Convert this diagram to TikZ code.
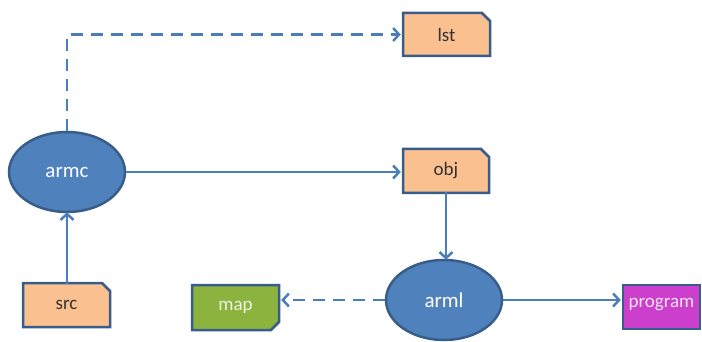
\documentclass[tikz,border=0pt]{standalone}
\usepackage{fontspec}
\setmainfont{Carlito}
\usetikzlibrary{shapes.geometric,arrows.meta}
\definecolor{ellfill}{HTML}{4F81BD}
\definecolor{ellline}{HTML}{385D8A}
\definecolor{peach}{HTML}{FAC090}
\definecolor{olive}{HTML}{8DB33F}
\definecolor{magen}{HTML}{CC3FCC}
\definecolor{conn}{HTML}{4A7EBB}
\tikzset{
  proc/.style={ellipse, draw=ellline, line width=2.5pt, fill=ellfill, text=white,
    minimum width=116pt, minimum height=80pt, inner sep=0pt, font=\fontsize{21}{24}\selectfont},
  boxline/.style={draw=ellline, line width=2.5pt, line join=miter},
  lbl/.style={font=\fontsize{19}{22}\selectfont, inner sep=0pt},
  link/.style={draw=conn, line width=2.5pt, -{Straight Barb[length=6pt,width=13pt]}},
  dlink/.style={link, dash pattern=on 12pt off 8pt},
}
\begin{document}
\begin{tikzpicture}[x=1pt,y=-1pt]
\useasboundingbox (0,0) rectangle (702,342);
% boxes
\fill[peach] (403,13) -- (482,13) -- (490,21) -- (490,56) -- (403,56) -- cycle;
\draw[boxline] (403,13) -- (482,13) -- (490,21) -- (490,56) -- (403,56) -- cycle;
\node[lbl, text=black!80, minimum width=87pt, minimum height=43pt] (lst) at (446.5,34.5) {lst};

\fill[peach] (403,149) -- (481,149) -- (489,157) -- (489,193) -- (403,193) -- cycle;
\draw[boxline] (403,149) -- (481,149) -- (489,157) -- (489,193) -- (403,193) -- cycle;
\node[lbl, text=black!80, minimum width=86pt, minimum height=44pt] (obj) at (446,171) {obj};

\fill[peach] (23,283) -- (102,283) -- (110,291) -- (110,327) -- (23,327) -- cycle;
\draw[boxline] (23,283) -- (102,283) -- (110,291) -- (110,327) -- (23,327) -- cycle;
\node[lbl, text=black!80, minimum width=87pt, minimum height=44pt] (src) at (66.5,305) {src};

\fill[olive] (192,285) -- (279,285) -- (279,322) -- (271,330) -- (192,330) -- cycle;
\draw[boxline] (192,285) -- (279,285) -- (279,322) -- (271,330) -- (192,330) -- cycle;
\node[lbl, text=white!85!olive, minimum width=87pt, minimum height=45pt] (map) at (235.5,307.5) {map};

\fill[magen] (623,285) -- (700,285) -- (700,329) -- (623,329) -- cycle;
\draw[boxline] (623,285) -- (700,285) -- (700,329) -- (623,329) -- cycle;
\node[lbl, text=white!85!magen, minimum width=77pt, minimum height=44pt] (program) at (661.5,305) {program};

% ellipses
\node[proc] (armc) at (67,172) {armc};
\node[proc] (arml) at (444,300) {arml};

% connectors
\coordinate (bend) at (armc.north |- lst.west);
\draw[dlink] (armc.north) -- (bend) -- ([xshift=-2pt]lst.west);
\draw[link] (armc.east) -- ([xshift=-2pt]armc.east -| obj.west);
\draw[link] ([yshift=-1pt]src.north -| armc.south) -- ([yshift=1pt]armc.south);
\draw[link] ([yshift=1pt]obj.south -| 446,0) -- ([yshift=-1pt]446,0 |- arml.north);
\draw[dlink] (arml.west) -- ([xshift=2pt]map.east |- arml.west);
\draw[link] (arml.east) -- ([xshift=-2pt]program.west |- arml.east);
\end{tikzpicture}
\end{document}
